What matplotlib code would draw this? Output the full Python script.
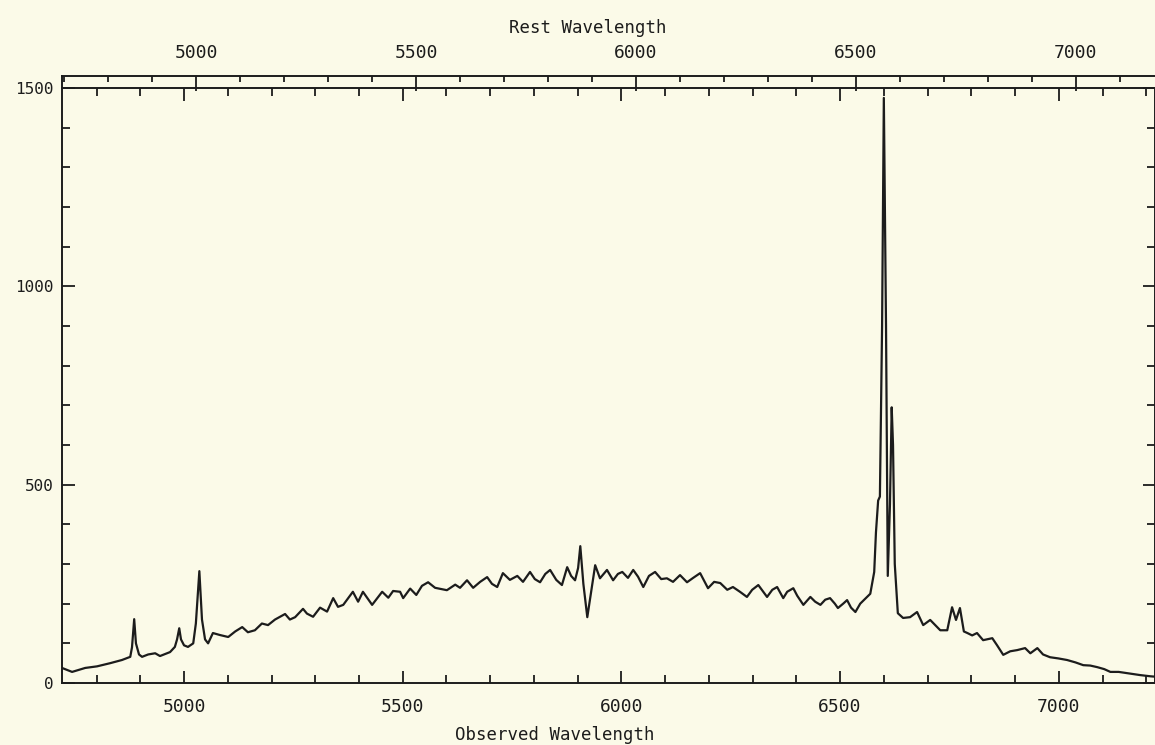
import numpy as np
import matplotlib.pyplot as plt
from matplotlib.ticker import MultipleLocator, FixedLocator

# redshift used for the rest-frame axis on top
z = 0.0056

# observed wavelength (A) and flux
wave = [4721, 4744, 4774, 4801, 4831, 4858, 4877, 4881, 4886, 4890,
        4897, 4904, 4918, 4934, 4945, 4968, 4979, 4984, 4989, 4993,
        5000, 5009, 5021, 5027, 5035, 5041, 5048, 5055, 5066, 5082,
        5101, 5117, 5133, 5146, 5162, 5178, 5192, 5208, 5231, 5242,
        5254, 5272, 5281, 5295, 5311, 5327, 5341, 5352, 5364, 5386,
        5398, 5409, 5430, 5453, 5467, 5478, 5494, 5501, 5517, 5531,
        5544, 5558, 5574, 5601, 5620, 5631, 5647, 5661, 5677, 5693,
        5704, 5716, 5729, 5745, 5762, 5775, 5791, 5802, 5814, 5826,
        5837, 5851, 5864, 5876, 5885, 5894, 5901, 5906, 5913, 5922,
        5928, 5940, 5951, 5967, 5981, 5992, 6002, 6015, 6027, 6038,
        6050, 6063, 6077, 6091, 6104, 6118, 6134, 6150, 6164, 6180,
        6198, 6212, 6226, 6242, 6255, 6271, 6287, 6299, 6313, 6333,
        6345, 6356, 6370, 6379, 6393, 6402, 6416, 6432, 6443, 6455,
        6466, 6477, 6488, 6495, 6507, 6516, 6525, 6535, 6546, 6557,
        6569, 6578, 6582, 6587, 6591, 6596, 6600, 6605, 6609, 6614,
        6618, 6621, 6625, 6632, 6644, 6660, 6676, 6690, 6706, 6729,
        6745, 6756, 6765, 6774, 6783, 6791, 6802, 6813, 6827, 6848,
        6859, 6873, 6889, 6905, 6923, 6935, 6951, 6964, 6980, 6999,
        7019, 7038, 7056, 7072, 7088, 7104, 7118, 7137, 7156, 7186,
        7209, 7220]
flux = [38, 28, 38, 42, 50, 58, 66, 90, 161, 100,
        72, 66, 72, 75, 68, 78, 91, 110, 138, 110,
        95, 91, 100, 150, 282, 160, 110, 100, 126, 121,
        116, 130, 141, 128, 133, 150, 146, 160, 174, 160,
        166, 187, 175, 167, 190, 180, 214, 192, 197, 230,
        205, 230, 197, 230, 215, 232, 230, 214, 238, 222,
        245, 254, 240, 234, 248, 240, 259, 240, 255, 267,
        250, 242, 277, 260, 270, 255, 280, 262, 254, 275,
        285, 260, 247, 292, 270, 259, 290, 345, 250, 166,
        210, 297, 264, 285, 259, 275, 280, 265, 285, 268,
        242, 270, 280, 262, 264, 255, 272, 254, 265, 277,
        239, 255, 252, 235, 242, 230, 217, 235, 247, 217,
        235, 242, 214, 230, 239, 220, 197, 217, 205, 197,
        210, 214, 200, 189, 200, 209, 190, 179, 200, 212,
        225, 280, 380, 460, 470, 900, 1475, 900, 270, 450,
        695, 600, 300, 176, 164, 166, 179, 146, 159, 133,
        133, 191, 159, 189, 130, 126, 120, 126, 108, 113,
        95, 71, 80, 83, 88, 75, 88, 72, 65, 62,
        58, 52, 45, 44, 40, 35, 28, 28, 25, 20,
        17, 16]

rest_ticks = [5000, 5500, 6000, 6500, 7000]

paper = '#fbfae8'
ink = '#1c1c1c'

fig = plt.figure(figsize=(11.55, 7.45), dpi=100, facecolor=paper)
ax = fig.add_axes([0.0537, 0.0832, 0.9463, 0.7987], facecolor=paper)

ax.plot(wave, flux, color=ink, lw=1.6)

ax.set_xlim(4721, 7220)
ax.set_ylim(0, 1500)

for s in ax.spines.values():
    s.set_linewidth(1.4)
    s.set_color(ink)

ax.xaxis.set_major_locator(MultipleLocator(500))
ax.xaxis.set_minor_locator(MultipleLocator(100))
ax.yaxis.set_major_locator(MultipleLocator(500))
ax.yaxis.set_minor_locator(MultipleLocator(100))
ax.tick_params(which='both', direction='in', top=True, right=True,
               color=ink, width=1.3)
ax.tick_params(which='major', length=9)
ax.tick_params(which='minor', length=6)
ax.tick_params(axis='x', pad=11, labelsize=13)
ax.tick_params(axis='y', pad=6, labelsize=11.5)
for lab in ax.get_xticklabels() + ax.get_yticklabels():
    lab.set_family('DejaVu Sans Mono')
    lab.set_color(ink)

ax.set_xlabel('Observed Wavelength', family='DejaVu Sans Mono',
              fontsize=12.5, color=ink)
ax.xaxis.set_label_coords(0.451, -0.072)

# rest wavelength axis, drawn a little above the frame
top = ax.secondary_xaxis(1.0202, functions=(lambda x: x / (1 + z),
                                            lambda x: x * (1 + z)))
top.xaxis.set_major_locator(FixedLocator(rest_ticks))
top.xaxis.set_minor_locator(FixedLocator(np.arange(4700, 7200, 100)))
top.spines['top'].set_linewidth(1.4)
top.spines['top'].set_color(ink)
top.tick_params(which='both', direction='in', color=ink, width=1.3,
                labelsize=13, pad=10)
top.tick_params(which='major', length=11)
top.tick_params(which='minor', length=4)
for lab in top.get_xticklabels():
    lab.set_family('DejaVu Sans Mono')
    lab.set_color(ink)
ax.plot([0, 0], [1, 1.0202], transform=ax.transAxes, color=ink,
        lw=1.4, clip_on=False)

fig.text(0.509, 0.962, 'Rest Wavelength', family='DejaVu Sans Mono',
         fontsize=12.5, color=ink, ha='center', va='center')

fig.savefig('out.png', dpi=100, facecolor=paper)
